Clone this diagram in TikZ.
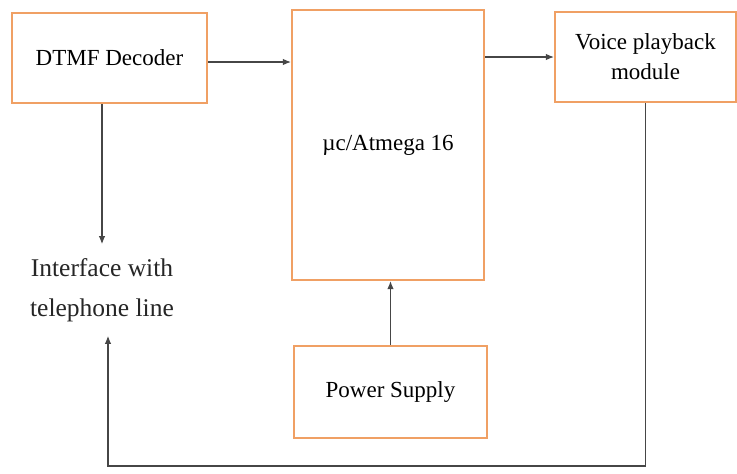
\documentclass[tikz,border=0pt]{standalone}
\usepackage{fontspec}
\setmainfont{Liberation Serif}
\usepackage{tikz}
\usetikzlibrary{arrows.meta}
\definecolor{boxorange}{RGB}{240,160,100}
\definecolor{wiregray}{RGB}{70,70,70}

\begin{document}
\begin{tikzpicture}[>={Latex[length=8pt,width=6.5pt]},x=1pt,y=-1pt,
  block/.style={draw=boxorange,line width=2.2pt,fill=white,align=center,font=\fontsize{23}{30}\selectfont},
  wire/.style={->,draw=wiregray,line width=1.1pt}]
\useasboundingbox (0,0) rectangle (737,474);
\node[block,minimum width=195pt,minimum height=90pt] (dtmf) at (109.5,58) {DTMF Decoder};
\node[block,minimum width=192pt,minimum height=270pt] (mcu) at (388,145) {µc/Atmega 16};
\node[block,minimum width=181pt,minimum height=90pt] (voice) at (645.5,57) {Voice playback\\module};
\node[block,minimum width=193pt,minimum height=92pt] (power) at (390.5,392) {Power Supply};
\node[align=center,inner ysep=14pt,text=black!85,font=\fontsize{25.5}{40}\selectfont] (iface) at (102,290) {Interface with\\telephone line};
\coordinate (bend) at (108,466);
\draw[wire] (dtmf.east |- 0,62) -- (mcu.west |- 0,62);
\draw[wire] (mcu.east |- voice.west) -- (voice.west);
\draw[wire] ([xshift=-7.5pt]dtmf.south) -- ([xshift=-7.5pt]dtmf.south |- iface.north);
\draw[wire] (power.north) -- (power.north |- mcu.south);
\draw[wire] (voice.south) |- (bend) -- (bend |- iface.south);
\end{tikzpicture}
\end{document}
